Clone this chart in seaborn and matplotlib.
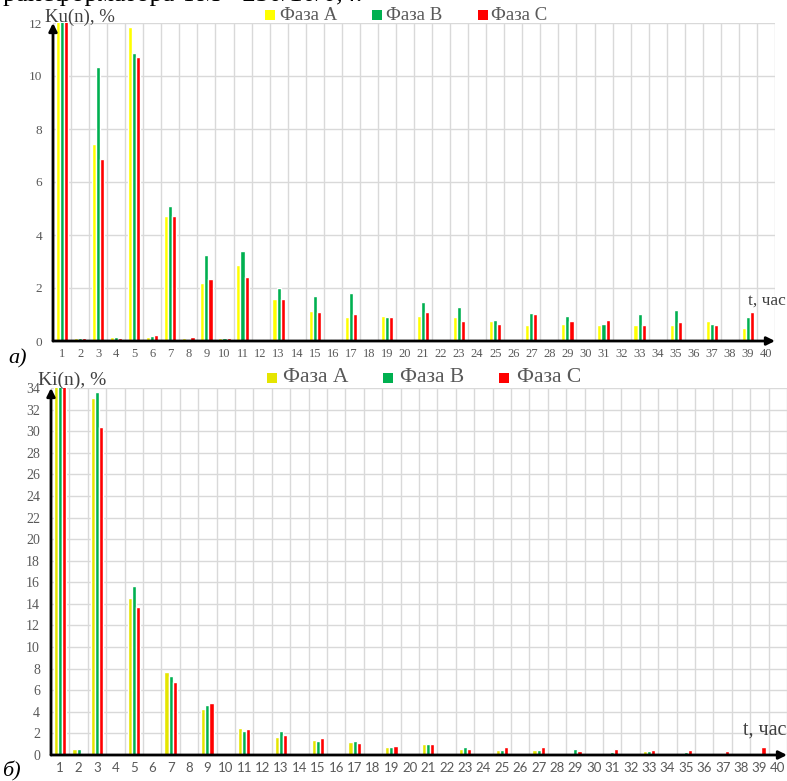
import numpy as np
import pandas as pd
import matplotlib
matplotlib.use("Agg")
import matplotlib.pyplot as plt
from matplotlib.patches import Rectangle
import seaborn as sns

harmonics = [str(i) for i in range(1, 41)]
phases = ["Фаза А", "Фаза В", "Фаза С"]

ku_a = [100, 0.10, 7.45, 0.15, 11.85, 0.15, 4.70, 0.10, 2.20, 0.10,
        2.85, 0.03, 1.60, 0.04, 1.13, 0.03, 0.92, 0.06, 0.95, 0.03,
        0.95, 0.03, 0.92, 0.03, 0.74, 0.03, 0.59, 0.03, 0.65, 0.04,
        0.59, 0.03, 0.62, 0.03, 0.59, 0.04, 0.74, 0.03, 0.49, 0.03]
ku_b = [100, 0.12, 10.35, 0.15, 10.85, 0.20, 5.10, 0.08, 3.25, 0.10,
        3.40, 0.06, 2.00, 0.04, 1.70, 0.06, 1.80, 0.06, 0.92, 0.04,
        1.46, 0.04, 1.27, 0.06, 0.78, 0.04, 1.06, 0.03, 0.93, 0.06,
        0.65, 0.03, 1.02, 0.03, 1.17, 0.06, 0.65, 0.03, 0.89, 0.06]
ku_c = [100, 0.12, 6.85, 0.10, 10.70, 0.22, 4.70, 0.15, 2.35, 0.10,
        2.40, 0.06, 1.57, 0.06, 1.09, 0.06, 1.02, 0.06, 0.92, 0.04,
        1.09, 0.06, 0.75, 0.06, 0.65, 0.03, 1.02, 0.06, 0.75, 0.06,
        0.79, 0.03, 0.62, 0.06, 0.72, 0.06, 0.62, 0.06, 1.09, 0.06]

ki_a = [100, 0.6, 33.1, 0, 14.5, 0, 7.7, 0, 4.3, 0,
        2.5, 0, 1.7, 0, 1.4, 0, 1.2, 0, 0.7, 0,
        1.0, 0, 0.6, 0, 0.5, 0, 0.5, 0, 0.1, 0,
        0.2, 0, 0.4, 0, 0.1, 0, 0.1, 0, 0.2, 0]
ki_b = [100, 0.6, 33.6, 0, 15.7, 0, 7.35, 0, 4.6, 0,
        2.2, 0, 2.2, 0, 1.27, 0, 1.3, 0, 0.7, 0,
        1.0, 0, 0.7, 0, 0.5, 0, 0.5, 0, 0.6, 0,
        0.3, 0, 0.4, 0, 0.25, 0, 0.2, 0, 0.1, 0]
ki_c = [100, 0.15, 30.4, 0.15, 13.7, 0, 6.75, 0, 4.8, 0,
        2.4, 0, 1.85, 0, 1.55, 0, 1.15, 0, 0.86, 0,
        1.0, 0, 0.55, 0, 0.75, 0, 0.7, 0, 0.35, 0,
        0.55, 0, 0.45, 0, 0.45, 0, 0.35, 0, 0.7, 0]

top_colors = ["#FFFF00", "#00B050", "#FF0000"]
bot_colors = ["#E5E500", "#00B050", "#FF0000"]

sns.set_style("white")
plt.rcParams["font.family"] = ["Liberation Serif", "DejaVu Serif"]

W, H = 787, 781
fig = plt.figure(figsize=(W / 100, H / 100), dpi=100)


def fx(x):
    return x / W


def fy(y):
    return 1 - y / H


def px_axes(x0, y0, x1, y1):
    return fig.add_axes([x0 / W, 1 - y1 / H, (x1 - x0) / W, (y1 - y0) / H])


def long_df(a, b, c):
    return pd.DataFrame({
        "n": harmonics * 3,
        "v": list(a) + list(b) + list(c),
        "phase": [phases[0]] * 40 + [phases[1]] * 40 + [phases[2]] * 40,
    })


def draw(ax, df, colors, ymax, xfs, yfs, xfont):
    sns.barplot(data=df, x="n", y="v", hue="phase", palette=colors,
                width=0.68, saturation=1, ax=ax, legend=False, order=harmonics)
    ax.set_xlim(-0.5, 39.5)
    ax.set_ylim(0, ymax)
    ax.set_yticks(np.arange(0, ymax + 0.1, 2))
    ax.set_xticks(np.arange(40))
    ax.set_xticks(np.arange(-0.5, 39.6, 1), minor=True)
    ax.grid(True, which="minor", axis="x", color="#D9D9D9", lw=1)
    ax.grid(True, which="major", axis="y", color="#D9D9D9", lw=1)
    ax.grid(False, which="major", axis="x")
    ax.set_axisbelow(True)
    ax.tick_params(axis="both", which="both", length=0)
    ax.tick_params(axis="x", pad=5, labelsize=xfs, labelcolor="#595959")
    ax.tick_params(axis="y", pad=8, labelsize=yfs, labelcolor="#595959")
    for lab in ax.get_xticklabels():
        lab.set_fontfamily(xfont)
    for s in ax.spines.values():
        s.set_visible(False)
    ax.set_xlabel("")
    ax.set_ylabel("")
    ax.annotate("", xy=(0, 1.0), xytext=(0, 0), xycoords="axes fraction",
                arrowprops=dict(arrowstyle="-|>", lw=2, color="black",
                                mutation_scale=12, shrinkA=0, shrinkB=0),
                annotation_clip=False)
    ax.annotate("", xy=(1.0, 0), xytext=(0, 0), xycoords="axes fraction",
                arrowprops=dict(arrowstyle="-|>", lw=2, color="black",
                                mutation_scale=12, shrinkA=0, shrinkB=0),
                annotation_clip=False)


ax1 = px_axes(53, 23, 775, 341)
draw(ax1, long_df(ku_a, ku_b, ku_c), top_colors, 12, 9, 9.5, ["Liberation Serif"])

ax2 = px_axes(51, 388, 787, 755)
draw(ax2, long_df(ki_a, ki_b, ki_c), bot_colors, 34, 9.5, 10, ["Lato", "DejaVu Sans"])

# partial caption cut at the top edge (as in the reference)
fig.text(fx(-9), fy(1), "трансформатора ТМ - 250/10/0,4.", fontsize=19,
         color="black", ha="left", va="baseline")

fig.text(fx(45), fy(22), "Ku(n), %", fontsize=13.5, color="#404040",
         ha="left", va="baseline")
fig.text(fx(38), fy(385), "Ki(n), %", fontsize=14, color="#404040",
         ha="left", va="baseline")

fig.text(fx(748), fy(305), "t, час", fontsize=12.5, color="#404040",
         ha="left", va="baseline")
fig.text(fx(786), fy(735), "t, час", fontsize=14.5, color="#404040",
         ha="right", va="baseline")

fig.text(fx(8), fy(363), "а)", fontsize=16, style="italic", color="black",
         ha="left", va="baseline")
fig.text(fx(2), fy(776), "б)", fontsize=16, style="italic", color="black",
         ha="left", va="baseline")


def manual_legend(sq_x, txt_x, yc, colors, size, fs):
    for sx, tx, c, lab in zip(sq_x, txt_x, colors, phases):
        fig.add_artist(Rectangle((fx(sx), fy(yc + size / 2)), size / W, size / H,
                                 transform=fig.transFigure, color=c, lw=0))
        fig.text(fx(tx), fy(yc), lab, fontsize=fs, color="#595959",
                 ha="left", va="center")


manual_legend([265, 372, 478], [280, 386, 491], 15, top_colors, 10, 13.5)
manual_legend([267, 383, 499], [283, 400, 517], 378, bot_colors, 10, 15.5)

fig.savefig("out.png", dpi=100)
